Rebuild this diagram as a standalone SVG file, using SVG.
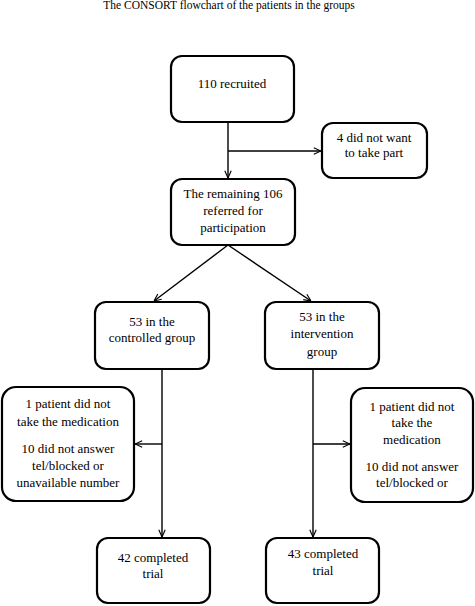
<svg xmlns="http://www.w3.org/2000/svg" width="475" height="606" viewBox="0 0 475 606">
<defs>
<marker id="arr" viewBox="0 0 10 10" refX="10" refY="5" markerWidth="8" markerHeight="8" markerUnits="userSpaceOnUse" orient="auto">
<path d="M1,1 L10,5 L1,9" fill="none" stroke="#000" stroke-width="1.4"/>
</marker>
</defs>
<style>
.box{fill:#fff;stroke:#000;stroke-width:2.2}
.ln{fill:none;stroke:#000;stroke-width:1.4}
</style>
<rect width="475" height="606" fill="#fff"/>
<g font-family="'Liberation Serif', 'Times New Roman', 'DejaVu Serif', serif" font-size="13" text-anchor="middle" fill="#000">
<text x="229" y="9" font-size="11.5">The CONSORT flowchart of the patients in the groups</text>
<g id="connectors">
<path class="ln" d="M228,122 V178" marker-end="url(#arr)"/>
<path class="ln" d="M228,151 H321" marker-end="url(#arr)"/>
<path class="ln" d="M228,245 L154,301" marker-end="url(#arr)"/>
<path class="ln" d="M228,245 L311,301" marker-end="url(#arr)"/>
<path class="ln" d="M162,369 V537" marker-end="url(#arr)"/>
<path class="ln" d="M162,444 H135" marker-end="url(#arr)"/>
<path class="ln" d="M313,369 V537" marker-end="url(#arr)"/>
<path class="ln" d="M313,444 H350" marker-end="url(#arr)"/>
</g>
<g id="n1"><rect class="box" x="171" y="56" width="123" height="66" rx="11"/><text x="232" y="88">110 recruited</text></g>
<g id="n2"><rect class="box" x="322" y="123" width="105" height="55" rx="11"/><text x="374" y="142">4 did not want</text><text x="374" y="157">to take part</text></g>
<g id="n3"><rect class="box" x="171" y="179" width="124" height="66" rx="11"/><text x="233" y="198">The remaining 106</text><text x="233" y="215">referred for</text><text x="233" y="232">participation</text></g>
<g id="n4"><rect class="box" x="95" y="302" width="114" height="67" rx="11"/><text x="152" y="326">53 in the</text><text x="152" y="342">controlled group</text></g>
<g id="n5"><rect class="box" x="265" y="302" width="114" height="67" rx="11"/><text x="322" y="321">53 in the</text><text x="322" y="338">intervention</text><text x="322" y="356">group</text></g>
<g id="n6"><rect class="box" x="2" y="387" width="132" height="114" rx="14"/><text x="68" y="408">1 patient did not</text><text x="68" y="426">take the medication</text><text x="68" y="453">10 did not answer</text><text x="68" y="470">tel/blocked or</text><text x="68" y="487">unavailable number</text></g>
<g id="n7"><rect class="box" x="351" y="388" width="122" height="114" rx="14"/><text x="412" y="411">1 patient did not</text><text x="412" y="427">take the</text><text x="412" y="444">medication</text><text x="412" y="471">10 did not answer</text><text x="412" y="487">tel/blocked or</text></g>
<g id="n8"><rect class="box" x="97" y="538" width="113" height="65" rx="11"/><text x="153" y="562">42 completed</text><text x="153" y="578">trial</text></g>
<g id="n9"><rect class="box" x="266" y="538" width="113" height="65" rx="11"/><text x="323" y="558">43 completed</text><text x="323" y="575">trial</text></g>
</g>
</svg>
